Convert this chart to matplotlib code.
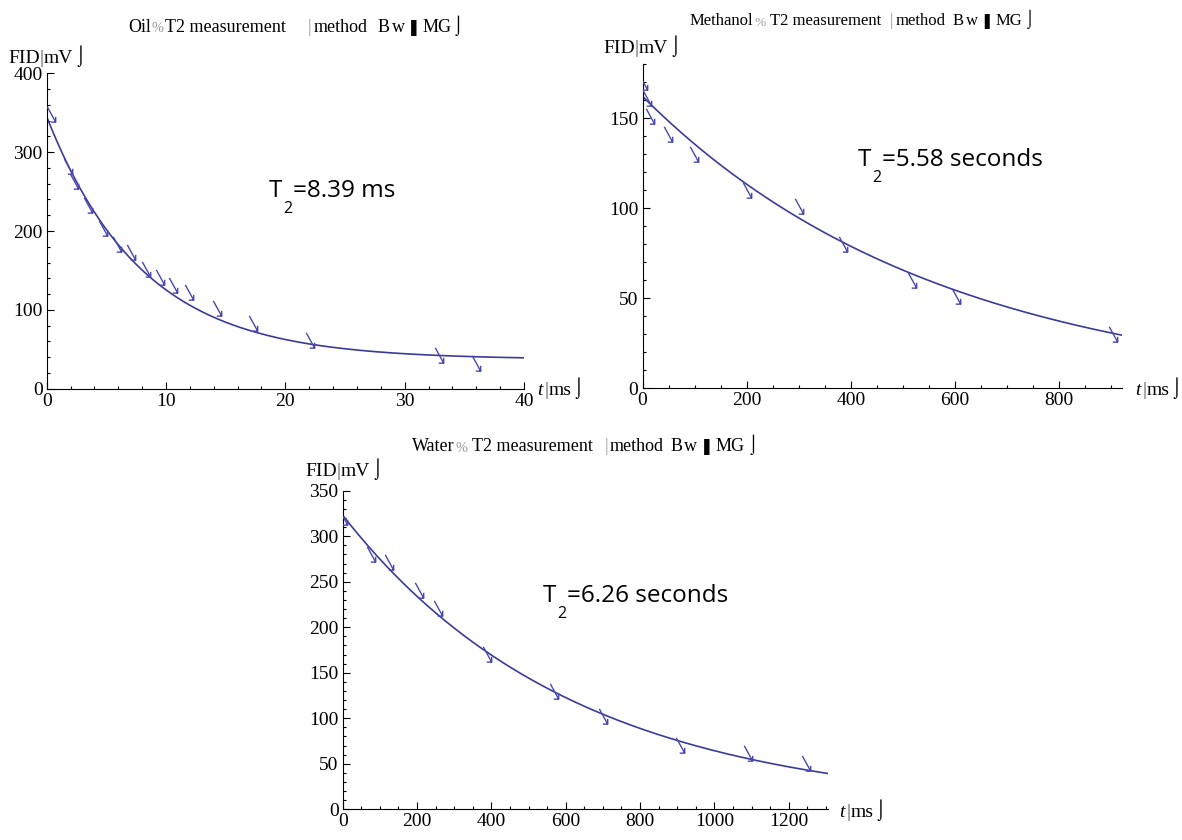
import numpy as np
import matplotlib.pyplot as plt
from matplotlib.path import Path
from matplotlib.ticker import MultipleLocator

# measured points (t in ms, FID in mV)
oil_t = [0.4, 1.8, 2.3, 3.5, 4.7, 5.9, 7.1, 8.3, 9.5, 10.6, 11.9, 14.3, 17.3, 22.1, 32.9, 36.0]
oil_fid = [349, 283, 263, 233, 204, 184, 173, 152, 142, 132, 123, 102, 83, 62, 43, 32]

meoh_t = [0, 8, 14, 48, 99, 200, 300, 385, 518, 602, 904]
meoh_fid = [170, 161, 151, 141, 130, 110, 101, 80, 60, 51, 30]

water_t = [2, 75, 125, 204, 257, 387, 569, 700, 908, 1091, 1247]
water_fid = [321, 281, 272, 241, 221, 171, 130, 102, 71, 62, 51]

# fitted curves: offset, amplitude, decay constant (ms)
oil_fit = (37.1, 307.9, 8.0)
meoh_fit = (-4.0, 166.0, 575.0)
water_fit = (0.0, 323.0, 620.0)

oil_label = "=8.39 ms"
meoh_label = "=5.58 seconds"
water_label = "=6.26 seconds"

W, H = 1182, 840
serif = ['Liberation Serif', 'DejaVu Sans']
plt.rcParams['font.family'] = serif

LINE = '#3b3b9a'
MARK = '#4848b0'
GREY = '#9a9a9a'

# arrow-like marker as drawn by the original software
arrow = Path([(-0.55, 1.0), (0.55, -1.0), (0.55, -0.3), (0.55, -1.0), (-0.1, -1.0)],
             [Path.MOVETO, Path.LINETO, Path.MOVETO, Path.LINETO, Path.LINETO])

fig = plt.figure(figsize=(W / 100, H / 100), dpi=100)
holder = fig.add_axes([0, 0, 1, 1])
holder.axis('off')


def put(x, y, s, size, color='black', **kw):
    # x, y in pixels from the top-left corner, y is the baseline
    return fig.text(x / W, 1 - y / H, s, fontsize=size, color=color,
                    ha='left', va='baseline', **kw)


def chain(x, y, parts):
    # parts: (text, colour, size, gap in px before it, style)
    s, c, fs, gap, st = parts[0]
    first = put(x, y, s, fs, c, style=st)
    prev = first
    for s, c, fs, gap, st in parts[1:]:
        prev = holder.annotate(s, xy=(1, 0), xycoords=(prev, first), xytext=(gap * 0.72, 0),
                               textcoords='offset points', ha='left', va='bottom',
                               color=c, fontsize=fs, style=st, annotation_clip=False)


def make_ax(l, t, r, b):
    ax = fig.add_axes([l / W, 1 - b / H, (r - l) / W, (b - t) / H])
    for s in ['top', 'right']:
        ax.spines[s].set_visible(False)
    for s in ['left', 'bottom']:
        ax.spines[s].set_linewidth(0.8)
    ax.tick_params(which='both', direction='in', width=0.8, labelsize=14, pad=3)
    ax.tick_params(which='major', length=5)
    ax.tick_params(which='minor', length=2.5)
    ax.patch.set_alpha(0)
    return ax


def draw(ax, t, fid, fit, xmax):
    off, amp, tau = fit
    tt = np.linspace(0, xmax, 400)
    ax.plot(tt, off + amp * np.exp(-tt / tau), color=LINE, lw=1.2, zorder=2)
    ax.plot(t, fid, ls='none', marker=arrow, ms=11, mfc='none', mec=MARK, mew=1.0, zorder=3)


def title(x, y, size, name, gaps):
    n = 'normal'
    words = [(name, 'black', size), ("%", GREY, size * 0.8), ("T2 measurement", 'black', size),
             ("|", GREY, size), ("method", 'black', size), ("B", 'black', size),
             ("w", 'black', size), ("\u275a", 'black', size * 0.9), ("MG", 'black', size),
             ("\u2321", 'black', size)]
    parts = [(s, c, fs, g, n) for (s, c, fs), g in zip(words, [0] + gaps)]
    chain(x, y, parts)


def ylab(x, y):
    chain(x, y, [("FID", 'black', 14, 0, 'normal'), ("|", '#555555', 14, 0, 'normal'),
                 ("mV", 'black', 14, 0, 'normal'), ("\u2321", 'black', 14, 1, 'normal')])


def xlab(x, y):
    chain(x, y, [("t", 'black', 14, 0, 'italic'), ("|", '#555555', 14, 2, 'normal'),
                 ("ms", 'black', 14, 0, 'normal'), ("\u2321", 'black', 14, 1, 'normal')])


def t2(x, y, label):
    put(x, y, "T", 17.5, family='Open Sans')
    put(x + 14, y + 16, "2", 11.5, family='Open Sans')
    put(x + 24, y, label, 17.5, family='Open Sans')


# Oil
ax1 = make_ax(46.7, 73.3, 524, 388.7)
draw(ax1, oil_t, oil_fid, oil_fit, 40)
ax1.set_xlim(0, 40)
ax1.set_ylim(0, 400)
ax1.xaxis.set_major_locator(MultipleLocator(10))
ax1.xaxis.set_minor_locator(MultipleLocator(2))
ax1.yaxis.set_major_locator(MultipleLocator(100))
ax1.yaxis.set_minor_locator(MultipleLocator(20))
title(128, 31.5, 13, "Oil", [1, 1, 22, 2, 10, 3, 2, 2, 1])
ylab(8, 63)
xlab(537, 395)
t2(269, 197, oil_label)

# Methanol
ax2 = make_ax(642.6, 64, 1121.7, 388.3)
draw(ax2, meoh_t, meoh_fid, meoh_fit, 920)
ax2.set_xlim(0, 920)
ax2.set_ylim(0, 180)
ax2.xaxis.set_major_locator(MultipleLocator(200))
ax2.xaxis.set_minor_locator(MultipleLocator(50))
ax2.yaxis.set_major_locator(MultipleLocator(50))
ax2.yaxis.set_minor_locator(MultipleLocator(10))
title(690, 25, 12, "Methanol", [1, 4, 9, 2, 7, 2, 3, 2, 3])
ylab(603, 53)
xlab(1135, 395)
t2(858, 166, meoh_label)

# Water
ax3 = make_ax(342.7, 490.7, 827.7, 809.3)
draw(ax3, water_t, water_fid, water_fit, 1305)
ax3.set_xlim(0, 1305)
ax3.set_ylim(0, 350)
ax3.xaxis.set_major_locator(MultipleLocator(200))
ax3.xaxis.set_minor_locator(MultipleLocator(50))
ax3.yaxis.set_major_locator(MultipleLocator(50))
ax3.yaxis.set_minor_locator(MultipleLocator(10))
title(412, 451, 13, "Water", [1, 4, 12, 2, 6, 2, 3, 2, 3])
ylab(305, 476)
xlab(839, 817)
t2(543, 602, water_label)

fig.savefig('out.png', dpi=100, facecolor='white')
